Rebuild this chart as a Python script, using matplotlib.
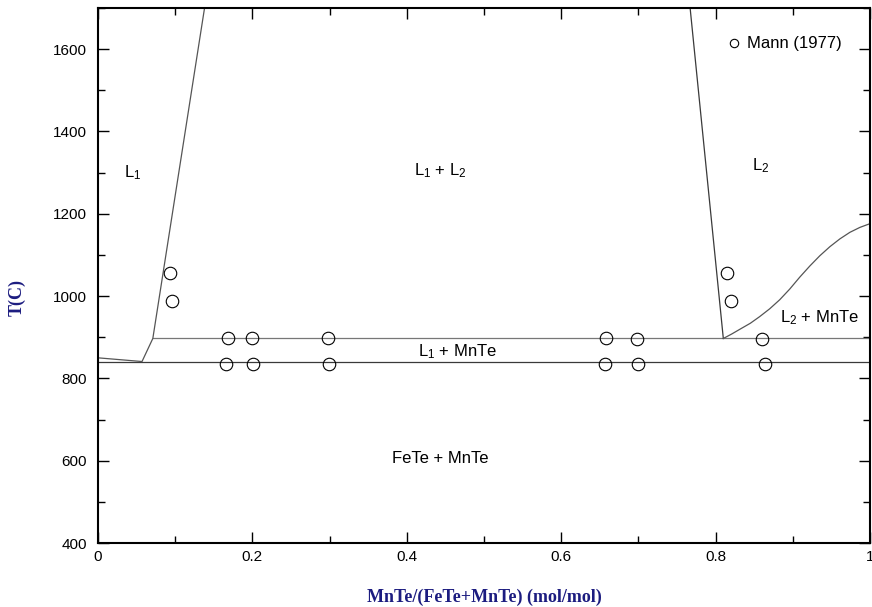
import matplotlib
matplotlib.use("Agg")
import matplotlib.pyplot as plt
from matplotlib.ticker import MultipleLocator

plt.rcParams['font.family'] = ['Liberation Sans', 'DejaVu Sans']
plt.rcParams['mathtext.fontset'] = 'custom'
plt.rcParams['mathtext.rm'] = 'Liberation Sans'
plt.rcParams['mathtext.it'] = 'Liberation Sans:italic'

# Phase boundaries (x = MnTe/(FeTe+MnTe), T in C)
eutectic_x = [0.0, 1.0]
eutectic_T = [841, 841]
monotectic_x = [0.071, 1.0]
monotectic_T = [897, 897]
left_liq_x = [0.0, 0.057, 0.071, 0.138]
left_liq_T = [850, 841, 897, 1700]
gap_right_x = [0.81, 0.767]
gap_right_T = [897, 1700]
l2_liq_x = [0.810, 0.821, 0.832, 0.845, 0.857, 0.870, 0.883, 0.896, 0.909,
            0.922, 0.935, 0.948, 0.961, 0.974, 0.987, 1.0]
l2_liq_T = [897, 908, 920, 934, 950, 969, 991, 1017, 1046,
            1073, 1098, 1120, 1139, 1155, 1167, 1176]

# Mann (1977) measurements
mann_x = [0.093, 0.096, 0.168, 0.199, 0.298, 0.658, 0.698, 0.860,
          0.166, 0.201, 0.299, 0.657, 0.699, 0.864, 0.815, 0.820]
mann_T = [1056, 987, 897, 897, 897, 897, 896, 895,
          835, 834, 835, 835, 834, 834, 1057, 987]

# Region labels
region_labels = ["L$_1$", "L$_1$ + L$_2$", "L$_2$", "L$_2$ + MnTe", "L$_1$ + MnTe", "FeTe + MnTe"]
label_x = [0.045, 0.444, 0.859, 0.935, 0.466, 0.443]
label_T = [1301, 1304, 1316, 948, 866, 605]

x_ticks = [0, 0.2, 0.4, 0.6, 0.8, 1.0]
x_ticklabels = ["0", "0.2", "0.4", "0.6", "0.8", "1"]
y_ticks = [400, 600, 800, 1000, 1200, 1400, 1600]

fig = plt.figure(figsize=(8.72, 6.07), dpi=100)
ax = fig.add_axes([0.1124, 0.1054, 0.8853, 0.8814])

lc = '#3a3a3a'
lw = 0.9
ax.plot(eutectic_x, eutectic_T, color=lc, lw=lw)
ax.plot(monotectic_x, monotectic_T, color='#777777', lw=lw)
ax.plot(left_liq_x, left_liq_T, color='#555555', lw=lw)
ax.plot(gap_right_x, gap_right_T, color=lc, lw=lw)
ax.plot(l2_liq_x, l2_liq_T, color='#555555', lw=lw)

ax.plot(mann_x, mann_T, linestyle='none', marker='o', markersize=9,
        markerfacecolor='none', markeredgecolor='black', markeredgewidth=0.8,
        label='Mann (1977)')

for s, x, t in zip(region_labels, label_x, label_T):
    ax.text(x, t, s, ha='center', va='center', fontsize=12)

ax.set_xlim(0, 1)
ax.set_ylim(400, 1700)
ax.set_xticks(x_ticks)
ax.set_xticklabels(x_ticklabels)
ax.set_yticks(y_ticks)
ax.xaxis.set_minor_locator(MultipleLocator(0.1))
ax.yaxis.set_minor_locator(MultipleLocator(100))
ax.tick_params(which='both', direction='in', top=True, right=True,
               labelsize=11, width=1.0)
ax.tick_params(which='major', length=8)
ax.tick_params(which='minor', length=5)
ax.tick_params(axis='x', which='both', pad=5)
ax.tick_params(axis='y', which='both', pad=8)
for sp in ax.spines.values():
    sp.set_linewidth(1.5)

lab_font = dict(family='Liberation Serif', weight='bold', color='#1c1c80', fontsize=13)
fig.text(484 / 872, 1 - 597 / 607, 'MnTe/(FeTe+MnTe) (mol/mol)',
         ha='center', va='center', **lab_font)
fig.text(17 / 872, 1 - 297 / 607, 'T(C)', rotation=90,
         ha='center', va='center', **lab_font)

ax.legend(loc='center left', bbox_to_anchor=(0.815, 0.933), frameon=False,
          fontsize=12, handlelength=0.8, handletextpad=0.38, borderpad=0,
          borderaxespad=0, markerscale=0.67)

fig.savefig('out.png', dpi=100)
